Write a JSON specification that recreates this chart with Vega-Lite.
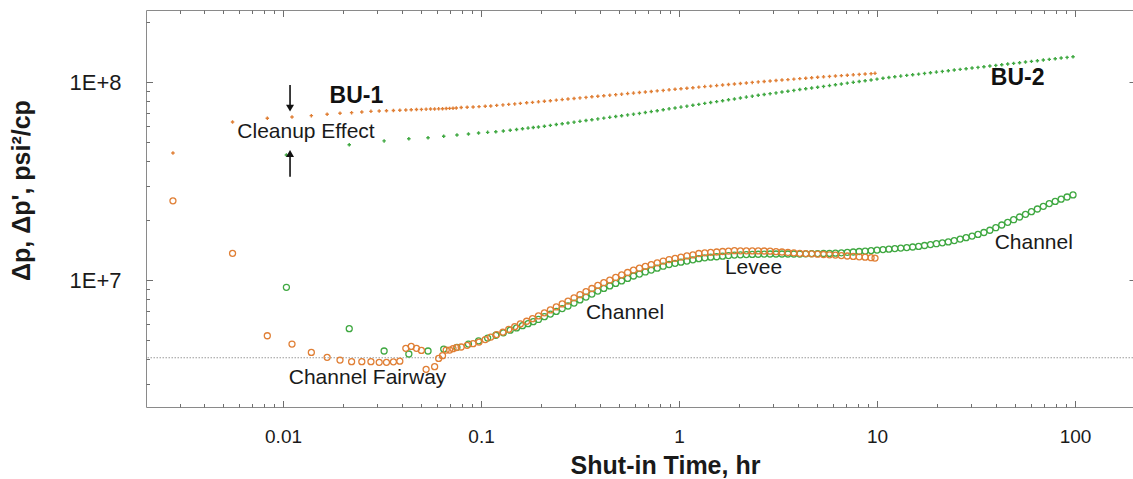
{
  "$schema": "https://vega.github.io/schema/vega-lite/v6.json",
  "width": 987,
  "height": 397,
  "autosize": {"type": "none"},
  "padding": {"left": 146, "top": 10, "right": 0, "bottom": 72},
  "background": "white",
  "config": {
    "view": {"stroke": "#8a8a8a", "strokeWidth": 1},
    "font": "Liberation Sans",
    "axis": {"grid": false, "domain": false, "tickColor": "#6e6e6e", "tickWidth": 1}
  },
  "datasets": {
    "bu1p": [
      {"t":0.00278,"v":4.38e7},{"t":0.00556,"v":6.28e7},{"t":0.00833,"v":6.56e7},{"t":0.0111,"v":6.66e7},{"t":0.0139,"v":6.76e7},{"t":0.0167,"v":6.87e7},{"t":0.0194,"v":6.95e7},{"t":0.0222,"v":7.00e7},{"t":0.025,"v":7.06e7},{"t":0.0278,"v":7.11e7},{"t":0.0306,"v":7.14e7},{"t":0.0333,"v":7.16e7},{"t":0.0361,"v":7.18e7},{"t":0.0389,"v":7.20e7},{"t":0.0417,"v":7.22e7},{"t":0.0444,"v":7.24e7},{"t":0.0472,"v":7.26e7},{"t":0.05,"v":7.27e7},{"t":0.0528,"v":7.29e7},{"t":0.0556,"v":7.30e7},{"t":0.0583,"v":7.31e7},{"t":0.0611,"v":7.32e7},{"t":0.0639,"v":7.33e7},{"t":0.0667,"v":7.35e7},{"t":0.0694,"v":7.36e7},{"t":0.0722,"v":7.37e7},{"t":0.075,"v":7.39e7},
      {"t":0.0794,"v":7.43e7},{"t":0.0851,"v":7.46e7},{"t":0.0912,"v":7.48e7},{"t":0.0977,"v":7.51e7},{"t":0.105,"v":7.54e7},{"t":0.112,"v":7.57e7},{"t":0.12,"v":7.62e7},{"t":0.129,"v":7.66e7},{"t":0.138,"v":7.71e7},{"t":0.148,"v":7.75e7},{"t":0.158,"v":7.80e7},{"t":0.17,"v":7.85e7},{"t":0.182,"v":7.89e7},{"t":0.195,"v":7.94e7},{"t":0.209,"v":7.99e7},{"t":0.224,"v":8.04e7},{"t":0.24,"v":8.10e7},{"t":0.257,"v":8.15e7},{"t":0.275,"v":8.20e7},{"t":0.295,"v":8.26e7},{"t":0.316,"v":8.31e7},{"t":0.339,"v":8.36e7},{"t":0.363,"v":8.42e7},{"t":0.389,"v":8.47e7},{"t":0.417,"v":8.52e7},{"t":0.447,"v":8.58e7},{"t":0.479,"v":8.63e7},{"t":0.513,"v":8.68e7},{"t":0.55,"v":8.74e7},{"t":0.589,"v":8.79e7},{"t":0.631,"v":8.85e7},{"t":0.676,"v":8.90e7},{"t":0.724,"v":8.96e7},{"t":0.776,"v":9.02e7},{"t":0.832,"v":9.07e7},{"t":0.891,"v":9.13e7},{"t":0.955,"v":9.19e7},{"t":1.023,"v":9.24e7},{"t":1.096,"v":9.30e7},{"t":1.175,"v":9.36e7},{"t":1.259,"v":9.42e7},{"t":1.349,"v":9.48e7},{"t":1.445,"v":9.53e7},{"t":1.549,"v":9.59e7},{"t":1.66,"v":9.65e7},{"t":1.778,"v":9.71e7},{"t":1.905,"v":9.77e7},{"t":2.042,"v":9.83e7},{"t":2.188,"v":9.89e7},{"t":2.344,"v":9.95e7},{"t":2.512,"v":1.001e8},{"t":2.692,"v":1.006e8},{"t":2.884,"v":1.012e8},{"t":3.09,"v":1.017e8},{"t":3.311,"v":1.023e8},{"t":3.548,"v":1.028e8},{"t":3.802,"v":1.034e8},{"t":4.074,"v":1.040e8},{"t":4.365,"v":1.045e8},{"t":4.677,"v":1.051e8},{"t":5.012,"v":1.057e8},{"t":5.37,"v":1.062e8},{"t":5.754,"v":1.067e8},{"t":6.166,"v":1.072e8},{"t":6.607,"v":1.077e8},{"t":7.079,"v":1.082e8},{"t":7.586,"v":1.087e8},{"t":8.128,"v":1.092e8},{"t":8.71,"v":1.097e8},{"t":9.333,"v":1.102e8},{"t":9.77,"v":1.106e8}
    ],
    "bu2p": [
      {"t":0.0104,"v":4.28e7},{"t":0.0216,"v":4.82e7},{"t":0.0324,"v":5.04e7},{"t":0.0432,"v":5.17e7},{"t":0.054,"v":5.23e7},{"t":0.0648,"v":5.32e7},{"t":0.0756,"v":5.40e7},{"t":0.0864,"v":5.46e7},{"t":0.0972,"v":5.53e7},{"t":0.108,"v":5.57e7},{"t":0.1188,"v":5.61e7},{"t":0.1296,"v":5.66e7},{"t":0.1404,"v":5.71e7},{"t":0.1512,"v":5.76e7},{"t":0.162,"v":5.81e7},{"t":0.1728,"v":5.85e7},{"t":0.1836,"v":5.89e7},
      {"t":0.195,"v":5.93e7},{"t":0.209,"v":5.98e7},{"t":0.224,"v":6.04e7},{"t":0.24,"v":6.10e7},{"t":0.257,"v":6.15e7},{"t":0.275,"v":6.21e7},{"t":0.295,"v":6.27e7},{"t":0.316,"v":6.33e7},{"t":0.339,"v":6.39e7},{"t":0.363,"v":6.45e7},{"t":0.389,"v":6.51e7},{"t":0.417,"v":6.57e7},{"t":0.447,"v":6.63e7},{"t":0.479,"v":6.69e7},{"t":0.513,"v":6.75e7},{"t":0.55,"v":6.82e7},{"t":0.589,"v":6.88e7},{"t":0.631,"v":6.94e7},{"t":0.676,"v":7.01e7},{"t":0.724,"v":7.09e7},{"t":0.776,"v":7.16e7},{"t":0.832,"v":7.24e7},{"t":0.891,"v":7.32e7},{"t":0.955,"v":7.39e7},{"t":1.023,"v":7.47e7},{"t":1.096,"v":7.55e7},{"t":1.175,"v":7.63e7},{"t":1.259,"v":7.71e7},{"t":1.349,"v":7.80e7},{"t":1.445,"v":7.88e7},{"t":1.549,"v":7.96e7},{"t":1.66,"v":8.04e7},{"t":1.778,"v":8.13e7},{"t":1.905,"v":8.21e7},{"t":2.042,"v":8.30e7},{"t":2.188,"v":8.39e7},{"t":2.344,"v":8.48e7},{"t":2.512,"v":8.57e7},{"t":2.692,"v":8.65e7},{"t":2.884,"v":8.73e7},{"t":3.09,"v":8.81e7},{"t":3.311,"v":8.90e7},{"t":3.548,"v":8.98e7},{"t":3.802,"v":9.07e7},{"t":4.074,"v":9.16e7},{"t":4.365,"v":9.24e7},{"t":4.677,"v":9.33e7},{"t":5.012,"v":9.41e7},{"t":5.37,"v":9.50e7},{"t":5.754,"v":9.59e7},{"t":6.166,"v":9.68e7},{"t":6.607,"v":9.77e7},{"t":7.079,"v":9.87e7},{"t":7.586,"v":9.96e7},{"t":8.128,"v":1.006e8},{"t":8.71,"v":1.015e8},{"t":9.333,"v":1.024e8},{"t":10,"v":1.034e8},{"t":10.72,"v":1.044e8},{"t":11.48,"v":1.054e8},{"t":12.3,"v":1.063e8},{"t":13.18,"v":1.071e8},{"t":14.13,"v":1.080e8},{"t":15.14,"v":1.088e8},{"t":16.22,"v":1.096e8},{"t":17.38,"v":1.105e8},{"t":18.62,"v":1.113e8},{"t":19.95,"v":1.122e8},{"t":21.38,"v":1.131e8},{"t":22.91,"v":1.140e8},{"t":24.55,"v":1.149e8},{"t":26.3,"v":1.158e8},{"t":28.18,"v":1.167e8},{"t":30.2,"v":1.176e8},{"t":32.36,"v":1.185e8},{"t":34.67,"v":1.194e8},{"t":37.15,"v":1.204e8},{"t":39.81,"v":1.213e8},{"t":42.66,"v":1.222e8},{"t":45.71,"v":1.232e8},{"t":48.98,"v":1.242e8},{"t":52.48,"v":1.251e8},{"t":56.23,"v":1.261e8},{"t":60.26,"v":1.271e8},{"t":64.57,"v":1.281e8},{"t":69.18,"v":1.291e8},{"t":74.13,"v":1.301e8},{"t":79.43,"v":1.311e8},{"t":85.11,"v":1.321e8},{"t":91.2,"v":1.331e8},{"t":97.72,"v":1.342e8}
    ],
    "bu1d": [
      {"t":0.00278,"v":2.51e7},{"t":0.00556,"v":1.364e7},{"t":0.00833,"v":5.23e6},{"t":0.0111,"v":4.75e6},{"t":0.0139,"v":4.31e6},{"t":0.0167,"v":4.07e6},{"t":0.0194,"v":3.94e6},{"t":0.0222,"v":3.87e6},{"t":0.025,"v":3.87e6},{"t":0.0278,"v":3.87e6},{"t":0.0306,"v":3.84e6},{"t":0.0333,"v":3.84e6},{"t":0.0361,"v":3.86e6},{"t":0.0389,"v":3.89e6},{"t":0.0417,"v":4.52e6},{"t":0.0444,"v":4.62e6},{"t":0.0472,"v":4.52e6},{"t":0.05,"v":4.41e6},{"t":0.0528,"v":3.54e6},{"t":0.0583,"v":3.65e6},{"t":0.0611,"v":4.02e6},{"t":0.0639,"v":4.15e6},{"t":0.0667,"v":4.43e6},{"t":0.0694,"v":4.43e6},{"t":0.0722,"v":4.50e6},{"t":0.075,"v":4.56e6},
      {"t":0.0794,"v":4.59e6},{"t":0.0851,"v":4.68e6},{"t":0.0912,"v":4.77e6},{"t":0.0977,"v":4.86e6},{"t":0.105,"v":5.00e6},{"t":0.112,"v":5.15e6},{"t":0.12,"v":5.30e6},{"t":0.129,"v":5.46e6},{"t":0.138,"v":5.63e6},{"t":0.148,"v":5.81e6},{"t":0.158,"v":6.00e6},{"t":0.17,"v":6.19e6},{"t":0.182,"v":6.38e6},{"t":0.195,"v":6.59e6},{"t":0.209,"v":6.83e6},{"t":0.224,"v":7.06e6},{"t":0.24,"v":7.31e6},{"t":0.257,"v":7.57e6},{"t":0.275,"v":7.83e6},{"t":0.295,"v":8.13e6},{"t":0.316,"v":8.43e6},{"t":0.339,"v":8.74e6},{"t":0.363,"v":9.06e6},{"t":0.389,"v":9.39e6},{"t":0.417,"v":9.69e6},{"t":0.447,"v":9.99e6},{"t":0.479,"v":1.030e7},{"t":0.513,"v":1.061e7},{"t":0.55,"v":1.091e7},{"t":0.589,"v":1.123e7},{"t":0.631,"v":1.147e7},{"t":0.676,"v":1.171e7},{"t":0.724,"v":1.196e7},{"t":0.776,"v":1.221e7},{"t":0.832,"v":1.247e7},{"t":0.891,"v":1.269e7},{"t":0.955,"v":1.287e7},{"t":1.023,"v":1.305e7},{"t":1.096,"v":1.323e7},{"t":1.175,"v":1.339e7},{"t":1.259,"v":1.361e7},{"t":1.349,"v":1.371e7},{"t":1.445,"v":1.378e7},{"t":1.549,"v":1.385e7},{"t":1.66,"v":1.393e7},{"t":1.778,"v":1.400e7},{"t":1.905,"v":1.406e7},{"t":2.042,"v":1.404e7},{"t":2.188,"v":1.404e7},{"t":2.344,"v":1.403e7},{"t":2.512,"v":1.403e7},{"t":2.692,"v":1.401e7},{"t":2.884,"v":1.398e7},{"t":3.09,"v":1.391e7},{"t":3.311,"v":1.385e7},{"t":3.548,"v":1.377e7},{"t":3.802,"v":1.371e7},{"t":4.074,"v":1.364e7},{"t":4.365,"v":1.359e7},{"t":4.677,"v":1.355e7},{"t":5.012,"v":1.350e7},{"t":5.37,"v":1.345e7},{"t":5.754,"v":1.341e7},{"t":6.166,"v":1.336e7},{"t":6.607,"v":1.328e7},{"t":7.079,"v":1.322e7},{"t":7.586,"v":1.316e7},{"t":8.128,"v":1.310e7},{"t":8.71,"v":1.304e7},{"t":9.333,"v":1.296e7},{"t":9.77,"v":1.29e7}
    ],
    "bu2d": [
      {"t":0.0104,"v":9.19e6},{"t":0.0216,"v":5.68e6},{"t":0.0324,"v":4.38e6},{"t":0.0432,"v":4.23e6},{"t":0.054,"v":4.38e6},{"t":0.0648,"v":4.48e6},{"t":0.0756,"v":4.57e6},{"t":0.0864,"v":4.75e6},{"t":0.0972,"v":4.93e6},{"t":0.108,"v":5.09e6},{"t":0.1188,"v":5.26e6},{"t":0.1296,"v":5.41e6},{"t":0.1404,"v":5.58e6},{"t":0.1512,"v":5.73e6},{"t":0.162,"v":5.88e6},{"t":0.1728,"v":6.02e6},{"t":0.1836,"v":6.16e6},
      {"t":0.195,"v":6.32e6},{"t":0.209,"v":6.53e6},{"t":0.224,"v":6.73e6},{"t":0.24,"v":6.94e6},{"t":0.257,"v":7.17e6},{"t":0.275,"v":7.39e6},{"t":0.295,"v":7.65e6},{"t":0.316,"v":7.93e6},{"t":0.339,"v":8.20e6},{"t":0.363,"v":8.49e6},{"t":0.389,"v":8.79e6},{"t":0.417,"v":9.07e6},{"t":0.447,"v":9.34e6},{"t":0.479,"v":9.61e6},{"t":0.513,"v":9.90e6},{"t":0.55,"v":1.019e7},{"t":0.589,"v":1.048e7},{"t":0.631,"v":1.072e7},{"t":0.676,"v":1.098e7},{"t":0.724,"v":1.123e7},{"t":0.776,"v":1.148e7},{"t":0.832,"v":1.174e7},{"t":0.891,"v":1.198e7},{"t":0.955,"v":1.214e7},{"t":1.023,"v":1.231e7},{"t":1.096,"v":1.247e7},{"t":1.175,"v":1.265e7},{"t":1.259,"v":1.282e7},{"t":1.349,"v":1.294e7},{"t":1.445,"v":1.304e7},{"t":1.549,"v":1.311e7},{"t":1.66,"v":1.320e7},{"t":1.778,"v":1.329e7},{"t":1.905,"v":1.337e7},{"t":2.042,"v":1.341e7},{"t":2.188,"v":1.344e7},{"t":2.344,"v":1.347e7},{"t":2.512,"v":1.349e7},{"t":2.692,"v":1.352e7},{"t":2.884,"v":1.353e7},{"t":3.09,"v":1.353e7},{"t":3.311,"v":1.353e7},{"t":3.548,"v":1.353e7},{"t":3.802,"v":1.353e7},{"t":4.074,"v":1.353e7},{"t":4.365,"v":1.354e7},{"t":4.677,"v":1.358e7},{"t":5.012,"v":1.359e7},{"t":5.37,"v":1.361e7},{"t":5.754,"v":1.362e7},{"t":6.166,"v":1.366e7},{"t":6.607,"v":1.372e7},{"t":7.079,"v":1.378e7},{"t":7.586,"v":1.385e7},{"t":8.128,"v":1.393e7},{"t":8.71,"v":1.400e7},{"t":9.333,"v":1.408e7},{"t":10,"v":1.416e7},{"t":10.72,"v":1.424e7},{"t":11.48,"v":1.432e7},{"t":12.3,"v":1.441e7},{"t":13.18,"v":1.449e7},{"t":14.13,"v":1.458e7},{"t":15.14,"v":1.468e7},{"t":16.22,"v":1.478e7},{"t":17.38,"v":1.494e7},{"t":18.62,"v":1.510e7},{"t":19.95,"v":1.525e7},{"t":21.38,"v":1.541e7},{"t":22.91,"v":1.557e7},{"t":24.55,"v":1.581e7},{"t":26.3,"v":1.609e7},{"t":28.18,"v":1.637e7},{"t":30.2,"v":1.666e7},{"t":32.36,"v":1.700e7},{"t":34.67,"v":1.738e7},{"t":37.15,"v":1.784e7},{"t":39.81,"v":1.837e7},{"t":42.66,"v":1.896e7},{"t":45.71,"v":1.956e7},{"t":48.98,"v":2.016e7},{"t":52.48,"v":2.081e7},{"t":56.23,"v":2.147e7},{"t":60.26,"v":2.213e7},{"t":64.57,"v":2.284e7},{"t":69.18,"v":2.356e7},{"t":74.13,"v":2.432e7},{"t":79.43,"v":2.495e7},{"t":85.11,"v":2.559e7},{"t":91.2,"v":2.626e7},{"t":97.72,"v":2.691e7}
    ],
    "fairway": [{"v": 4.05e6}],
    "notes": [
      {"t":0.01306,"v":5.61e7,"label":"Cleanup Effect"},
      {"t":0.02672,"v":3.19e6,"label":"Channel Fairway"},
      {"t":0.5337,"v":6.85e6,"label":"Channel"},
      {"t":2.378,"v":1.156e7,"label":"Levee"},
      {"t":61.9,"v":1.538e7,"label":"Channel"}
    ],
    "tests": [
      {"t":0.02346,"v":8.48e7,"label":"BU-1"},
      {"t":51.3,"v":1.048e8,"label":"BU-2"}
    ],
    "arrows": [
      {"t":0.01085,"v":9.66e7,"v2":7.38e7},
      {"t":0.01085,"v":3.32e7,"v2":4.35e7}
    ],
    "heads": [
      {"t":0.01085,"v":7.38e7,"dir":"down"},
      {"t":0.01085,"v":4.35e7,"dir":"up"}
    ]
  },
  "resolve": {"axis": {"x": "independent", "y": "independent"}},
  "layer": [
    {
      "data": {"name": "fairway"},
      "mark": {"type": "rule", "color": "#9a9a9a", "strokeWidth": 1.2, "strokeDash": [1.5, 1.5]},
      "encoding": {
        "y": {"field": "v", "type": "quantitative", "scale": {"type": "log", "domain": [2.284e6, 2.31e8], "nice": false}, "axis": null}
      }
    },
    {
      "data": {"name": "bu2p"},
      "mark": {"type": "point", "shape": "cross", "filled": true, "size": 12, "color": "#3fa841", "opacity": 1},
      "encoding": {
        "x": {"field": "t", "type": "quantitative", "scale": {"type": "log", "domain": [0.002032, 196.3], "nice": false},
          "axis": {"orient": "bottom", "values": [0.01, 0.1, 1, 10, 100], "format": "~g", "ticks": false, "tickSize": 0,
            "labelFontSize": 19, "labelColor": "#1a1a1a", "labelPadding": 29, "labelBaseline": "middle", "labelFlush": false, "labelOverlap": false,
            "title": "Shut-in Time, hr", "titleFontSize": 25, "titleFontWeight": "bold", "titleColor": "#1a1a1a",
            "titleX": 519, "titleY": 58, "titleAlign": "center", "titleBaseline": "middle"}},
        "y": {"field": "v", "type": "quantitative", "scale": {"type": "log", "domain": [2.284e6, 2.31e8], "nice": false},
          "axis": {"orient": "left", "values": [1e7, 1e8], "labelExpr": "datum.value >= 5e7 ? '1E+8' : '1E+7'", "ticks": false, "tickSize": 0,
            "labelFontSize": 22, "labelColor": "#1a1a1a", "labelPadding": 25, "labelBaseline": "middle", "labelFlush": false, "labelOverlap": false,
            "title": "Δp, Δp', psi²/cp", "titleFontSize": 25, "titleFontWeight": "bold", "titleColor": "#1a1a1a",
            "titleX": -125, "titleY": 180, "titleAngle": -90, "titleAlign": "center", "titleBaseline": "middle"}}
      }
    },
    {
      "data": {"name": "bu1p"},
      "mark": {"type": "point", "shape": "cross", "filled": true, "size": 12, "color": "#e07f35", "opacity": 1},
      "encoding": {
        "x": {"field": "t", "type": "quantitative", "scale": {"type": "log", "domain": [0.002032, 196.3], "nice": false},
          "axis": {"orient": "bottom", "values": [0.003,0.004,0.005,0.006,0.007,0.008,0.009,0.02,0.03,0.04,0.05,0.06,0.07,0.08,0.09,0.2,0.3,0.4,0.5,0.6,0.7,0.8,0.9,2,3,4,5,6,7,8,9,20,30,40,50,60,70,80,90], "labels": false, "tickSize": -3.5, "title": null}},
        "y": {"field": "v", "type": "quantitative", "scale": {"type": "log", "domain": [2.284e6, 2.31e8], "nice": false},
          "axis": {"orient": "left", "values": [3e6,4e6,5e6,6e6,7e6,8e6,9e6,2e7,3e7,4e7,5e7,6e7,7e7,8e7,9e7,2e8], "labels": false, "tickSize": -3.5, "title": null}}
      }
    },
    {
      "data": {"name": "bu2d"},
      "mark": {"type": "point", "shape": "circle", "filled": false, "size": 36, "strokeWidth": 1.3, "color": "#3fa841", "opacity": 1},
      "encoding": {
        "x": {"field": "t", "type": "quantitative", "scale": {"type": "log", "domain": [0.002032, 196.3], "nice": false},
          "axis": {"orient": "bottom", "values": [0.01, 0.1, 1, 10, 100], "labels": false, "tickSize": -6.5, "title": null}},
        "y": {"field": "v", "type": "quantitative", "scale": {"type": "log", "domain": [2.284e6, 2.31e8], "nice": false},
          "axis": {"orient": "left", "values": [1e7, 1e8], "labels": false, "tickSize": -6.5, "title": null}}
      }
    },
    {
      "data": {"name": "bu1d"},
      "mark": {"type": "point", "shape": "circle", "filled": false, "size": 36, "strokeWidth": 1.3, "color": "#e07f35", "opacity": 1},
      "encoding": {
        "x": {"field": "t", "type": "quantitative", "scale": {"type": "log", "domain": [0.002032, 196.3], "nice": false},
          "axis": {"orient": "top", "values": [0.003,0.004,0.005,0.006,0.007,0.008,0.009,0.02,0.03,0.04,0.05,0.06,0.07,0.08,0.09,0.2,0.3,0.4,0.5,0.6,0.7,0.8,0.9,2,3,4,5,6,7,8,9,20,30,40,50,60,70,80,90], "labels": false, "tickSize": -3.5, "title": null}},
        "y": {"field": "v", "type": "quantitative", "scale": {"type": "log", "domain": [2.284e6, 2.31e8], "nice": false},
          "axis": {"orient": "right", "values": [1e7, 1e8], "labels": false, "tickSize": -4, "title": null}}
      }
    },
    {
      "data": {"name": "notes"},
      "mark": {"type": "text", "fontSize": 21, "color": "#1a1a1a", "align": "center", "baseline": "middle"},
      "encoding": {
        "x": {"field": "t", "type": "quantitative", "scale": {"type": "log", "domain": [0.002032, 196.3], "nice": false},
          "axis": {"orient": "top", "values": [0.01, 0.1, 1, 10, 100], "labels": false, "tickSize": -6.5, "title": null}},
        "y": {"field": "v", "type": "quantitative", "scale": {"type": "log", "domain": [2.284e6, 2.31e8], "nice": false}, "axis": null},
        "text": {"field": "label", "type": "nominal"}
      }
    },
    {
      "data": {"name": "tests"},
      "mark": {"type": "text", "fontSize": 23, "fontWeight": "bold", "color": "#111111", "align": "center", "baseline": "middle"},
      "encoding": {
        "x": {"field": "t", "type": "quantitative", "scale": {"type": "log", "domain": [0.002032, 196.3], "nice": false}, "axis": null},
        "y": {"field": "v", "type": "quantitative", "scale": {"type": "log", "domain": [2.284e6, 2.31e8], "nice": false}, "axis": null},
        "text": {"field": "label", "type": "nominal"}
      }
    },
    {
      "data": {"name": "arrows"},
      "mark": {"type": "rule", "color": "#111111", "strokeWidth": 1.6},
      "encoding": {
        "x": {"field": "t", "type": "quantitative", "scale": {"type": "log", "domain": [0.002032, 196.3], "nice": false}, "axis": null},
        "y": {"field": "v", "type": "quantitative", "scale": {"type": "log", "domain": [2.284e6, 2.31e8], "nice": false}, "axis": null},
        "y2": {"field": "v2"}
      }
    },
    {
      "data": {"name": "heads"},
      "mark": {"type": "point", "filled": true, "size": 64, "color": "#111111", "opacity": 1},
      "encoding": {
        "x": {"field": "t", "type": "quantitative", "scale": {"type": "log", "domain": [0.002032, 196.3], "nice": false}, "axis": null},
        "y": {"field": "v", "type": "quantitative", "scale": {"type": "log", "domain": [2.284e6, 2.31e8], "nice": false}, "axis": null},
        "shape": {"field": "dir", "type": "nominal", "scale": {"domain": ["down", "up"], "range": ["triangle-down", "triangle-up"]}, "legend": null}
      }
    }
  ]
}
